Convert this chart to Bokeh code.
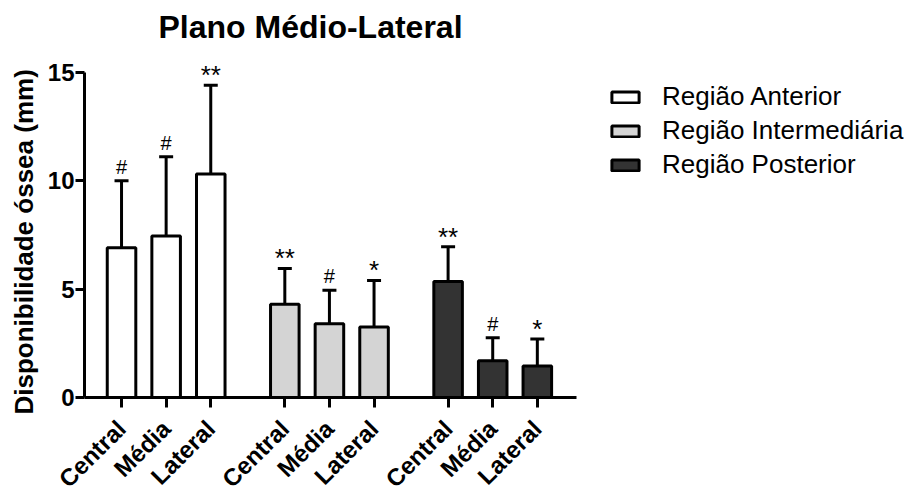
from math import pi
from bokeh.plotting import figure
from bokeh.models import (ColumnDataSource, Range1d, FixedTicker, Legend, LegendItem,
                          Whisker, TeeHead, Title)
from bokeh.core.properties import value
from bokeh.embed import file_html
from bokeh.resources import INLINE

# ---- data ----
groups = ["Região Anterior", "Região Intermediária", "Região Posterior"]
sub_labels = ["Central", "Média", "Lateral"]
means_anterior = [6.9, 7.45, 10.3]
sd_anterior = [3.1, 3.65, 4.1]
means_intermediaria = [4.3, 3.4, 3.25]
sd_intermediaria = [1.65, 1.55, 2.15]
means_posterior = [5.35, 1.7, 1.45]
sd_posterior = [1.6, 1.05, 1.25]
marks_anterior = ["#", "#", "**"]
marks_intermediaria = ["**", "#", "*"]
marks_posterior = ["**", "#", "*"]
y_ticks = [0, 5, 10, 15]
fills = ["#FFFFFF", "#D4D4D4", "#333333"]

FONT = "Liberation Sans"
GAP = 0.66
X0, X1 = 0.17, 11.2

p = figure(width=902, height=479, output_backend="svg", toolbar_location=None,
           x_range=Range1d(X0, 18.55), y_range=Range1d(0, 16.0),
           min_border_left=80, min_border_right=2, min_border_top=50, min_border_bottom=82,
           frame_width=820, frame_height=347, title="Plano Médio-Lateral")

all_means = [means_anterior, means_intermediaria, means_posterior]
all_sd = [sd_anterior, sd_intermediaria, sd_posterior]
all_marks = [marks_anterior, marks_intermediaria, marks_posterior]

tick_pos = []
tick_lab = {}
items = []
hash_x, hash_y, hash_t = [], [], []
star_x, star_y, star_t = [], [], []
for g in range(3):
    xs = [g * (3 + GAP) + k + 1 for k in range(3)]
    m = all_means[g]
    s = all_sd[g]
    up = [a + b for a, b in zip(m, s)]
    src = ColumnDataSource(dict(x=xs, top=m, upper=up))
    r = p.vbar(x="x", top="top", width=0.64, source=src, fill_color=fills[g],
               line_color="black", line_width=3)
    items.append(LegendItem(label=groups[g], renderers=[r]))
    w = Whisker(base="x", lower="top", upper="upper", source=src,
                line_width=3, line_color="black",
                upper_head=TeeHead(size=14, line_width=3, line_color="black"),
                lower_head=None)
    p.add_layout(w)
    for x, u, t in zip(xs, up, all_marks[g]):
        if "*" in t:
            star_x.append(x); star_y.append(u); star_t.append(t)
        else:
            hash_x.append(x); hash_y.append(u); hash_t.append(t)
    for x, lab in zip(xs, sub_labels):
        tick_pos.append(x)
        tick_lab[x] = lab

p.text(x=hash_x, y=hash_y, text=hash_t, text_align="center", text_baseline="bottom",
       y_offset=-3, text_font=value(FONT), text_font_size="20px", text_color="black")
p.text(x=star_x, y=star_y, text=star_t, text_align="center", text_baseline="bottom",
       y_offset=5, text_font=value(FONT), text_font_size="26px", text_color="black")

# title
p.title.text_font = FONT
p.title.text_font_size = "32px"
p.title.text_font_style = "bold"
p.title.text_color = "black"
p.title.align = "left"
p.title.offset = 74
p.title.standoff = 12

# axes
p.xaxis.bounds = (X0, X1)
p.xaxis.ticker = FixedTicker(ticks=tick_pos)
p.xaxis.major_label_overrides = tick_lab
p.xaxis.major_label_orientation = pi / 4
p.xaxis.major_label_text_font = FONT
p.xaxis.major_label_text_font_size = "24px"
p.xaxis.major_label_text_font_style = "bold"
p.xaxis.major_label_standoff = 17
p.xaxis.major_tick_out = 10
p.xaxis.major_tick_in = 0
p.xaxis.minor_tick_line_color = None

p.yaxis.bounds = (0, 15)
p.yaxis.ticker = FixedTicker(ticks=y_ticks)
p.yaxis.major_label_text_font = FONT
p.yaxis.major_label_text_font_size = "24px"
p.yaxis.major_label_text_font_style = "bold"
p.yaxis.major_label_standoff = 1
p.yaxis.major_tick_out = 9
p.yaxis.major_tick_in = 0
p.yaxis.minor_tick_line_color = None

for ax in (p.xaxis, p.yaxis):
    ax.axis_line_width = 3
    ax.major_tick_line_width = 3
    ax.axis_line_color = "black"
    ax.major_tick_line_color = "black"
    ax.major_label_text_color = "black"

# y-axis label as a side title so it can be centred on the 0-15 axis span
ylab = Title(text="Disponibilidade óssea (mm)", align="left", offset=-17,
             text_font=FONT, text_font_size="26px", text_font_style="bold",
             text_color="black", standoff=12)
p.add_layout(ylab, "left")

p.xgrid.grid_line_color = None
p.ygrid.grid_line_color = None
p.outline_line_color = None

legend = Legend(items=items, location=(524, 217), margin=0, padding=0,
                border_line_color=None, background_fill_alpha=0,
                glyph_width=34, glyph_height=14, label_standoff=20,
                label_text_font=FONT, label_text_font_size="26px",
                label_text_color="black", spacing=3)
p.add_layout(legend, "center")

open("out.html", "w").write(file_html(p, INLINE))
